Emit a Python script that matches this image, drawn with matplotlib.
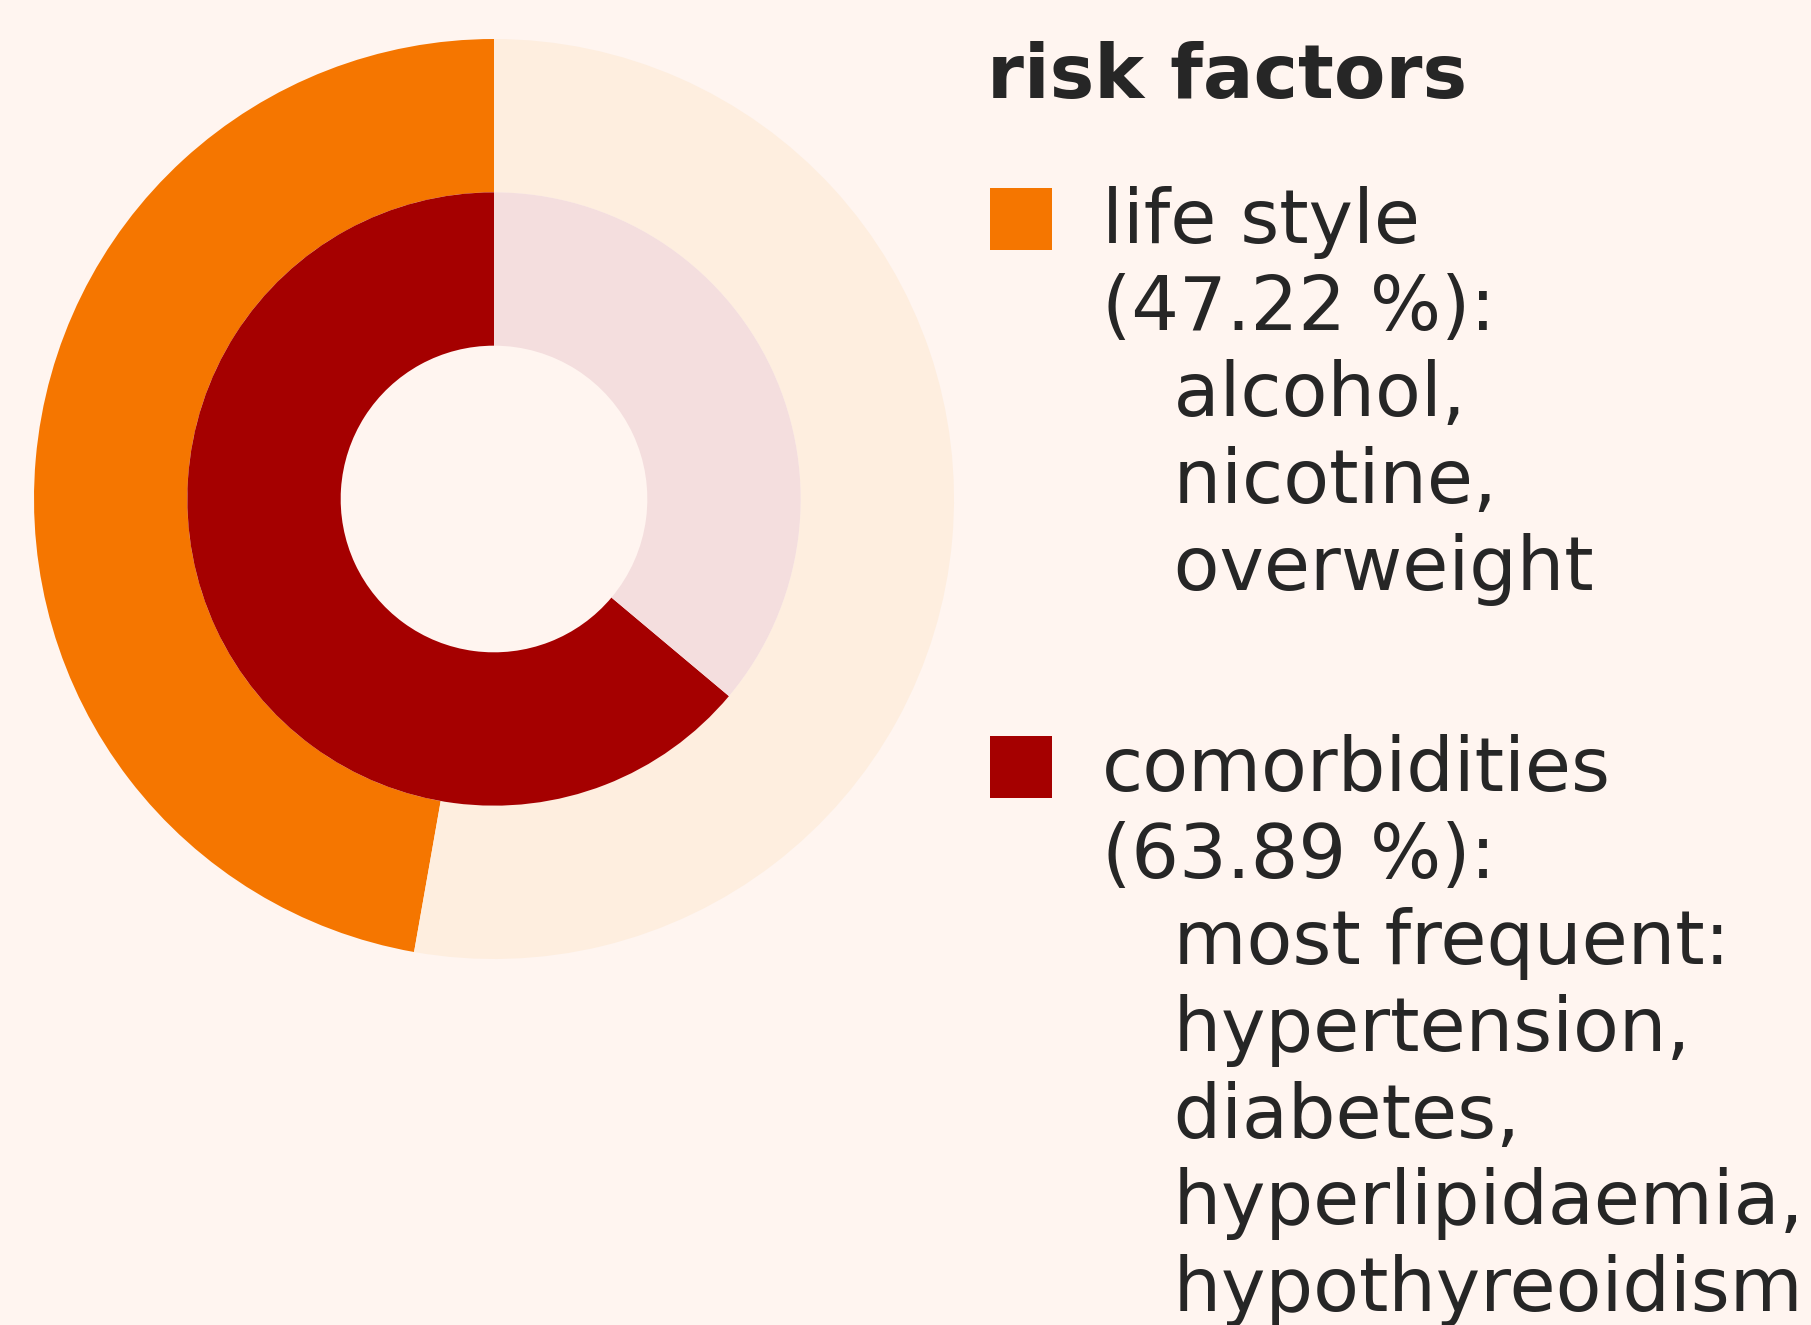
import matplotlib.pyplot as plt
from matplotlib.patches import Rectangle

# data
groups = ['life style', 'comorbidities']
shares = [47.22, 63.89]
details = [
    ['alcohol,', 'nicotine,', 'overweight'],
    ['most frequent:', 'hypertension,', 'diabetes,', 'hyperlipidaemia,', 'hypothyreoidism'],
]
colors = ['#f57600', '#a50000']
rest_colors = ['#feeedf', '#f4dede']

bg = '#fff5f0'
text_color = '#262626'
W, H = 1811, 1325

fig = plt.figure(figsize=(W / 100, H / 100), dpi=100, facecolor=bg)

# donut axes: centre (494, 499) px, radius 460 px
cx, cy, r = 494, 499, 460
ax = fig.add_axes([(cx - r) / W, (H - cy - r) / H, 2 * r / W, 2 * r / H])
ax.set_facecolor(bg)

radii = [1.0, 2 / 3]
for share, col, rest, rad in zip(shares, colors, rest_colors, radii):
    ax.pie([share, 100 - share], colors=[col, rest], radius=rad, startangle=90,
           counterclock=True, wedgeprops=dict(width=1 / 3, linewidth=0))
ax.set_xlim(-1, 1)
ax.set_ylim(-1, 1)
ax.set_aspect('equal')
ax.axis('off')

# legend drawn by hand so the squares sit at the first line
fs = 54
fig.text(987 / W, 1 - 98 / H, 'risk factors', fontsize=fs, fontweight='bold',
         color=text_color, va='baseline', ha='left')

entry_top = [188, 736]
for name, share, det, col, top in zip(groups, shares, details, colors, entry_top):
    fig.patches.append(Rectangle((990 / W, 1 - (top + 62) / H), 62 / W, 62 / H,
                                 transform=fig.transFigure, facecolor=col,
                                 edgecolor='none'))
    label = f'{name}\n({share:.2f} %):\n' + '\n'.join('   ' + d for d in det)
    fig.text(1102 / W, 1 - (top - 2) / H, label, fontsize=fs, color=text_color,
             va='top', ha='left', linespacing=1.24)

fig.savefig('out.png', dpi=100, facecolor=bg)
